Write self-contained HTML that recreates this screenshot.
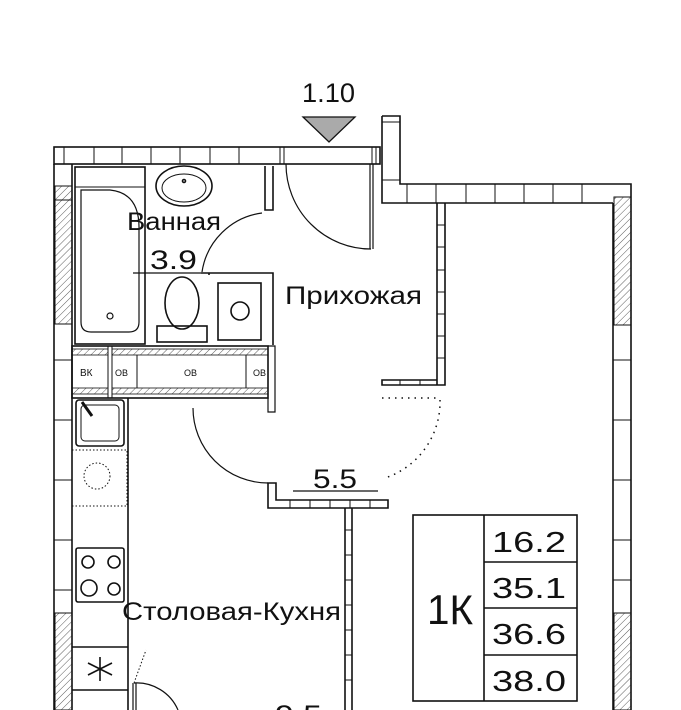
<!DOCTYPE html>
<html><head><meta charset="utf-8"><style>
html,body{margin:0;padding:0;background:#fff;}
svg{display:block;}
text{font-family:"Liberation Sans",sans-serif;fill:#111;}
</style></head><body>
<svg width="681" height="710" viewBox="0 0 681 710" xmlns="http://www.w3.org/2000/svg">
<defs>
<pattern id="h" width="5" height="5" patternUnits="userSpaceOnUse" patternTransform="rotate(45)">
<line x1="0" y1="0" x2="0" y2="5" stroke="#333" stroke-width="0.8"/>
</pattern>
</defs>
<g fill="none" stroke="#111" stroke-width="1.6">
<rect x="54" y="147" width="326" height="17" fill="#fff"/>
<path d="M64 147v17M94 147v17M122 147v17M151 147v17M180 147v17M210 147v17M239 147v17M280 147v17M284 147v17M372 147v17M376 147v17" stroke-width="1"/>
<path d="M54 164V710M72 164V710"/>
<rect x="55" y="186" width="17" height="138" fill="url(#h)" stroke-width="1"/>
<rect x="55" y="613" width="17" height="97" fill="url(#h)" stroke-width="1"/>
<path d="M54 200h18M54 360h18M54 420h18M54 480h18M54 540h18M54 590h18" stroke-width="1"/>
<path d="M382 116h18v68h231v526M382 116v87h231M613 203V710"/>
<path d="M382 122h18M382 180h18M407 184v19M436 184v19M466 184v19M495 184v19M524 184v19M553 184v19M582 184v19" stroke-width="1"/>
<rect x="614" y="197" width="17" height="128" fill="url(#h)" stroke-width="1"/>
<rect x="614" y="613" width="17" height="97" fill="url(#h)" stroke-width="1"/>
<path d="M613 325h18M613 360h18M613 420h18M613 480h18M613 540h18M613 580h18" stroke-width="1"/>
<path d="M437 203v182h-55v-5h55M445 203v182h-8"/>
<path d="M437 225h8M437 247h8M437 270h8M437 292h8M437 314h8M437 336h8M437 358h8M400 380v5M420 380v5" stroke-width="1"/>
<path d="M370 164v85M373 164v85" stroke-width="1.2"/>
<path d="M286 164A85 85 0 0 0 371 249" stroke-width="1.2"/>
<path d="M265 166v44h8v-44M201 273h72v72M209 273v2" />
<path d="M202 272A70 70 0 0 1 262 213" stroke-width="1.2"/>
<path d="M133 273h68" stroke-width="1.2"/>
<rect x="75" y="167" width="70" height="177"/>
<path d="M75 187h70" stroke-width="1"/>
<path d="M81 190Q81 190 110 190Q140 193 139 230V322Q139 332 129 332H91Q81 332 81 322Z" stroke-width="1.2"/>
<circle cx="110" cy="316" r="3" stroke-width="1.2"/>
<ellipse cx="184" cy="186" rx="28" ry="20"/>
<ellipse cx="184" cy="188" rx="22" ry="14" stroke-width="1"/>
<circle cx="184" cy="181" r="1.5"/>
<ellipse cx="182" cy="303" rx="17" ry="26"/>
<rect x="157" y="326" width="50" height="16"/>
<rect x="218" y="283" width="43" height="57"/>
<circle cx="240" cy="311" r="9"/>
<rect x="72" y="346" width="196" height="52"/>
<rect x="72" y="349" width="36" height="6" fill="url(#h)" stroke-width="0.8"/>
<rect x="112" y="349" width="156" height="6" fill="url(#h)" stroke-width="0.8"/>
<rect x="72" y="388" width="36" height="6" fill="url(#h)" stroke-width="0.8"/>
<rect x="112" y="388" width="156" height="6" fill="url(#h)" stroke-width="0.8"/>
<path d="M108 346v52M112 346v52M137 355v33M246 355v33" stroke-width="1"/>
<path d="M268 398v14h7v-14M268 346h7v52" stroke-width="1.2"/>
<path d="M193 408A75 75 0 0 0 268 483" stroke-width="1.2"/>
<path d="M268 483v25h120v-8H276v-17z"/>
<path d="M290 500v8M310 500v8M330 500v8M350 500v8M370 500v8" stroke-width="1"/>
<path d="M382 398h58M440 400A80 80 0 0 1 385 478" stroke-dasharray="1.5 5" stroke-width="1.5"/>
<path d="M293 491h85" stroke-width="1.2"/>
<path d="M345 508V710M352 508V710"/>
<path d="M345 530h7M345 555h7M345 580h7M345 605h7M345 630h7M345 655h7M345 680h7" stroke-width="1"/>
<path d="M128 398V710"/>
<rect x="76" y="400" width="48" height="46" rx="3"/>
<rect x="81" y="405" width="38" height="36" rx="4" stroke-width="1"/>
<path d="M82 402l10 14" stroke-width="3"/>
<circle cx="97" cy="476" r="13" stroke-dasharray="1.5 2" stroke-width="1"/>
<path d="M72 450h55v56H72" stroke-dasharray="1.5 2" stroke-width="1"/>
<rect x="76" y="548" width="48" height="54" rx="2"/>
<circle cx="88" cy="562" r="6"/><circle cx="114" cy="562" r="6"/>
<circle cx="89" cy="588" r="8"/><circle cx="114" cy="589" r="6"/>
<path d="M72 647h56M72 690h56M100 657v24M88 663l24 12M112 663l-24 12"/>
<path d="M133 683v27M136 683v27" stroke-width="1.2"/>
<path d="M134 683l12-33" stroke-dasharray="1.5 2" stroke-width="1"/>
<path d="M134 683A45 45 0 0 1 178 710" stroke-width="1.2"/>
<rect x="413" y="515" width="164" height="186"/>
<path d="M484 515v186M484 562h93M484 608h93M484 655h93"/>
</g>
<text x="80" y="376" font-size="10" fill="#333">ВК</text>
<text x="115" y="376" font-size="9">ОВ</text>
<text x="184" y="376" font-size="9">ОВ</text>
<text x="253" y="376" font-size="9">ОВ</text>
<polygon points="303,117 355,117 329,142" fill="#aaa" stroke="#111" stroke-width="1.3"/>
<text x="302" y="102" font-size="27" textLength="53" lengthAdjust="spacingAndGlyphs">1.10</text>
<text x="127" y="230" font-size="25" textLength="94" lengthAdjust="spacingAndGlyphs">Ванная</text>
<text x="150" y="269" font-size="27" textLength="47" lengthAdjust="spacingAndGlyphs">3.9</text>
<text x="285" y="304" font-size="25" textLength="137" lengthAdjust="spacingAndGlyphs">Прихожая</text>
<text x="313" y="488" font-size="27" textLength="44" lengthAdjust="spacingAndGlyphs">5.5</text>
<text x="122" y="620" font-size="25" textLength="219" lengthAdjust="spacingAndGlyphs">Столовая-Кухня</text>
<text x="275" y="724" font-size="27" textLength="47" lengthAdjust="spacingAndGlyphs">9.5</text>
<text x="427" y="624" font-size="42" textLength="46" lengthAdjust="spacingAndGlyphs">1К</text>
<text x="492" y="552" font-size="29" textLength="74" lengthAdjust="spacingAndGlyphs">16.2</text>
<text x="492" y="598" font-size="29" textLength="74" lengthAdjust="spacingAndGlyphs">35.1</text>
<text x="492" y="644" font-size="29" textLength="74" lengthAdjust="spacingAndGlyphs">36.6</text>
<text x="492" y="691" font-size="29" textLength="74" lengthAdjust="spacingAndGlyphs">38.0</text>
</svg>
</body></html>
